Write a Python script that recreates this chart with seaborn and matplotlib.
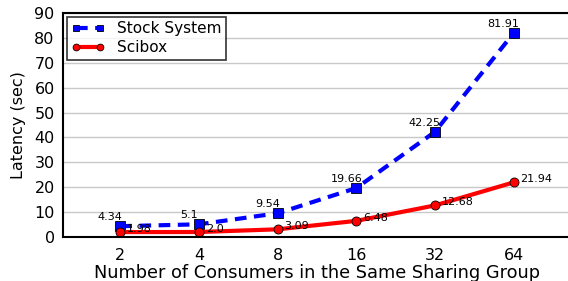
import matplotlib
matplotlib.use("Agg")
import matplotlib.pyplot as plt
import seaborn as sns
import pandas as pd

# data
consumers = [2, 4, 8, 16, 32, 64]
stock_latency = [4.34, 5.1, 9.54, 19.66, 42.25, 81.91]
scibox_latency = [1.98, 2.0, 3.09, 6.48, 12.68, 21.94]
stock_labels = ["4.34", "5.1", "9.54", "19.66", "42.25", "81.91"]
scibox_labels = ["1.98", "2.0", "3.09", "6.48", "12.68", "21.94"]

df = pd.DataFrame({
    "consumers": consumers * 2,
    "latency": stock_latency + scibox_latency,
    "system": ["Stock System"] * 6 + ["Scibox"] * 6,
})

sns.set_style("white")
plt.rcParams["font.family"] = ["DejaVu Sans"]
plt.rcParams["text.color"] = "black"
plt.rcParams["axes.labelcolor"] = "black"
plt.rcParams["xtick.color"] = "black"
plt.rcParams["ytick.color"] = "black"

fig = plt.figure(figsize=(5.68, 2.81), dpi=100)
ax = fig.add_axes([63 / 568, 44 / 281, 1 - 63 / 568 + 0.005, 224 / 281])

sns.lineplot(data=df, x="consumers", y="latency", hue="system", style="system",
             palette={"Stock System": "#0000ff", "Scibox": "#ff0000"},
             dashes={"Stock System": (2.8, 1.8), "Scibox": ""},
             markers={"Stock System": "s", "Scibox": "o"},
             markersize=6.5, linewidth=3, markeredgecolor="#000000",
             markeredgewidth=0.6, ax=ax, legend=True)

ax.set_xscale("log", base=2)
ax.set_xlim(1.207, 106)
ax.set_ylim(0, 90)
ax.set_xticks(consumers)
ax.set_xticklabels([str(c) for c in consumers])
ax.set_yticks(range(0, 91, 10))
ax.minorticks_off()
ax.tick_params(axis="both", length=0, labelsize=11.5)
ax.tick_params(axis="x", pad=8)
ax.tick_params(axis="y", pad=6)

ax.yaxis.grid(True, color="#c8c8c8", linewidth=1)
ax.xaxis.grid(False)
for s in ax.spines.values():
    s.set_color("black")
    s.set_linewidth(1.5)

ax.set_xlabel("Number of Consumers in the Same Sharing Group", fontsize=12.8, labelpad=1)
ax.set_ylabel("Latency (sec)", fontsize=11.5, labelpad=6)

for x, y, t in zip(consumers, stock_latency, stock_labels):
    ax.annotate(t, (x, y), xytext=(-10, 9), textcoords="offset pixels",
                ha="center", va="center", fontsize=8)
for x, y, t in zip(consumers, scibox_latency, scibox_labels):
    ax.annotate(t, (x, y), xytext=(7, 3), textcoords="offset pixels",
                ha="left", va="center", fontsize=8)

leg = ax.legend(loc="upper left", fontsize=11, frameon=True, fancybox=False,
                numpoints=2, markerscale=0.75, handlelength=2.2, borderpad=0.3,
                labelspacing=0.25, borderaxespad=0.25, title=None)
leg.get_frame().set_edgecolor("black")
leg.get_frame().set_linewidth(1.2)

fig.savefig("out.png", dpi=100)
